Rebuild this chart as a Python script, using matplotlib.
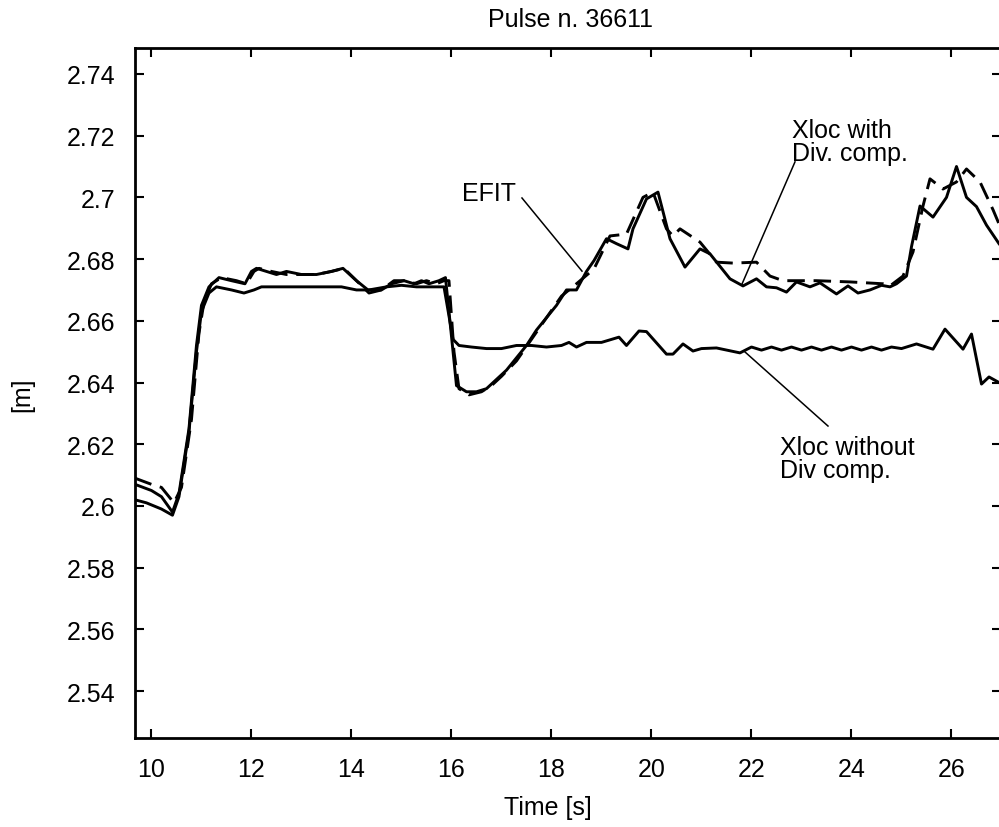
import matplotlib
matplotlib.use("Agg")
import matplotlib.pyplot as plt
from matplotlib.ticker import FixedLocator, FuncFormatter

plt.rcParams['font.family'] = ['Liberation Sans', 'DejaVu Sans']

# Xloc with divertor compensation (solid)
t_with = [9.67, 10.0, 10.2, 10.42, 10.55, 10.75, 10.9, 11.0, 11.15, 11.35, 11.6,
          11.87, 12.0, 12.1, 12.3, 12.5, 12.7, 13.0, 13.3, 13.6, 13.83, 14.1,
          14.33, 14.6, 14.8, 15.05, 15.25, 15.4, 15.55, 15.75, 15.88, 16.0,
          16.1, 16.3, 16.5, 16.7, 16.9, 17.1, 17.3, 17.5, 17.7, 17.9, 18.1,
          18.3, 18.5, 18.7, 18.85, 19.1, 19.3, 19.53, 19.63, 19.9, 20.13,
          20.37, 20.67, 20.97, 21.17, 21.57, 21.83, 22.1, 22.3, 22.5, 22.7,
          22.9, 23.17, 23.37, 23.7, 23.93, 24.13, 24.37, 24.6, 24.77, 24.9,
          25.1, 25.2, 25.37, 25.63, 25.9, 26.1, 26.3, 26.5, 26.7, 26.95]
x_with = [2.607, 2.605, 2.603, 2.598, 2.604, 2.625, 2.652, 2.665, 2.671, 2.674,
          2.673, 2.672, 2.676, 2.677, 2.676, 2.675, 2.676, 2.675, 2.675, 2.676,
          2.677, 2.673, 2.670, 2.670, 2.672, 2.673, 2.672, 2.673, 2.672, 2.673,
          2.674, 2.655, 2.639, 2.637, 2.637, 2.638, 2.641, 2.644, 2.648, 2.652,
          2.657, 2.661, 2.665, 2.670, 2.670, 2.676, 2.6795, 2.6866, 2.685,
          2.6833, 2.6898, 2.6995, 2.7017, 2.6866, 2.6774, 2.6833, 2.6817,
          2.6736, 2.6713, 2.6736, 2.671, 2.6707, 2.6693, 2.6726, 2.671, 2.6723,
          2.6687, 2.6713, 2.669, 2.670, 2.6715, 2.671, 2.672, 2.6745, 2.684,
          2.6972, 2.6936, 2.700, 2.710, 2.700, 2.697, 2.691, 2.685]

# EFIT reconstruction (dashed)
t_efit = [9.67, 10.0, 10.2, 10.45, 10.6, 10.8, 10.95, 11.05, 11.2, 11.4, 11.7,
          11.9, 12.05, 12.15, 12.4, 12.7, 13.0, 13.3, 13.6, 13.85, 14.1, 14.35,
          14.6, 14.85, 15.05, 15.3, 15.5, 15.7, 15.85, 15.95, 16.05, 16.15,
          16.35, 16.6, 16.8, 17.0, 17.3, 17.6, 17.9, 18.2, 18.5, 18.85, 19.17,
          19.5, 19.83, 20.03, 20.3, 20.43, 20.57, 20.97, 21.3, 21.63, 22.1,
          22.37, 22.63, 23.3, 23.97, 24.63, 24.77, 25.03, 25.23, 25.43, 25.57,
          25.83, 26.1, 26.3, 26.57, 26.83, 26.95]
x_efit = [2.609, 2.607, 2.606, 2.601, 2.606, 2.628, 2.656, 2.666, 2.672, 2.674,
          2.673, 2.672, 2.676, 2.677, 2.676, 2.675, 2.675, 2.675, 2.676, 2.677,
          2.673, 2.669, 2.670, 2.673, 2.673, 2.672, 2.673, 2.672, 2.673, 2.673,
          2.650, 2.638, 2.636, 2.637, 2.639, 2.642, 2.647, 2.654, 2.661, 2.668,
          2.672, 2.6768, 2.6875, 2.6881, 2.700, 2.7017, 2.6898, 2.6875, 2.6898,
          2.6855, 2.679, 2.6787, 2.679, 2.6745, 2.673, 2.673, 2.6726, 2.672,
          2.6713, 2.6745, 2.6823, 2.6972, 2.706, 2.7027, 2.705, 2.7092, 2.705,
          2.696, 2.6914]

# Xloc without divertor compensation (solid)
t_without = [9.67, 9.9, 10.2, 10.42, 10.55, 10.75, 10.9, 11.0, 11.15, 11.3, 11.6,
             11.85, 12.05, 12.2, 12.6, 13.0, 13.4, 13.8, 14.1, 14.35, 14.7, 15.0,
             15.3, 15.6, 15.85, 16.03, 16.15, 16.4, 16.7, 17.0, 17.3, 17.6, 17.9,
             18.2, 18.35, 18.5, 18.7, 19.0, 19.35, 19.5, 19.75, 19.9, 20.3, 20.43,
             20.63, 20.83, 21.0, 21.3, 21.77, 22.0, 22.2, 22.4, 22.6, 22.8, 23.0,
             23.2, 23.4, 23.6, 23.8, 24.0, 24.2, 24.4, 24.6, 24.8, 25.0, 25.3,
             25.63, 25.87, 26.23, 26.4, 26.6, 26.75, 26.95]
x_without = [2.602, 2.601, 2.599, 2.597, 2.603, 2.624, 2.650, 2.663, 2.669, 2.671,
             2.670, 2.669, 2.670, 2.671, 2.671, 2.671, 2.671, 2.671, 2.670, 2.670,
             2.671, 2.6715, 2.671, 2.671, 2.671, 2.654, 2.652, 2.6515, 2.651,
             2.651, 2.652, 2.652, 2.6515, 2.652, 2.653, 2.6515, 2.653, 2.653,
             2.6547, 2.652, 2.6567, 2.6565, 2.6492, 2.6492, 2.6525, 2.6502, 2.651,
             2.6512, 2.6496, 2.6515, 2.6505, 2.6515, 2.6505, 2.6515, 2.6505,
             2.6515, 2.6505, 2.6515, 2.6505, 2.6515, 2.6505, 2.6515, 2.6505,
             2.6515, 2.651, 2.6525, 2.6508, 2.6573, 2.6508, 2.6557, 2.6395,
             2.6418, 2.640]

xticks = [10, 12, 14, 16, 18, 20, 22, 24, 26]
yticks = [2.54, 2.56, 2.58, 2.60, 2.62, 2.64, 2.66, 2.68, 2.70, 2.72, 2.74]

fig = plt.figure(figsize=(9.99, 8.28), dpi=100)
ax = fig.add_axes([0.1351, 0.1075, 0.8669, 0.8333])

ax.plot(t_efit, x_efit, color='black', lw=2.1, dashes=(6, 3))
ax.plot(t_with, x_with, color='black', lw=2.1)
ax.plot(t_without, x_without, color='black', lw=2.1)

ax.set_xlim(9.67, 26.99)
ax.set_ylim(2.5248, 2.7484)
ax.xaxis.set_major_locator(FixedLocator(xticks))
ax.yaxis.set_major_locator(FixedLocator(yticks))
ax.yaxis.set_major_formatter(FuncFormatter(lambda v, _: f'{v:g}'))
ax.tick_params(direction='in', length=6.5, width=1.5, labelsize=18,
               top=True, right=True)
ax.tick_params(axis='x', pad=14)
ax.tick_params(axis='y', pad=14)
for sp in ax.spines.values():
    sp.set_linewidth(2)

fig.text(570 / 999, 1 - 20 / 828, 'Pulse n. 36611', ha='center', va='center',
         fontsize=18)
fig.text(548 / 999, 1 - 808 / 828, 'Time [s]', ha='center', va='center',
         fontsize=18)
fig.text(22 / 999, 1 - 395 / 828, '[m]', ha='center', va='center',
         rotation=90, fontsize=18)

# annotations with leader lines
ax.text(16.21, 2.7014, 'EFIT', ha='left', va='center', fontsize=18)
ax.plot([17.41, 18.61], [2.6998, 2.6761], color='black', lw=1.1)

ax.text(22.81, 2.7180, 'Xloc with\nDiv. comp.', ha='left', va='center',
        fontsize=18, linespacing=0.95)
ax.plot([22.87, 21.81], [2.7115, 2.6719], color='black', lw=1.1)

ax.text(22.57, 2.6155, 'Xloc without\nDiv comp.', ha='left', va='center',
        fontsize=18, linespacing=0.95)
ax.plot([23.53, 21.87], [2.6259, 2.6499], color='black', lw=1.1)

fig.savefig('out.png', dpi=100)
